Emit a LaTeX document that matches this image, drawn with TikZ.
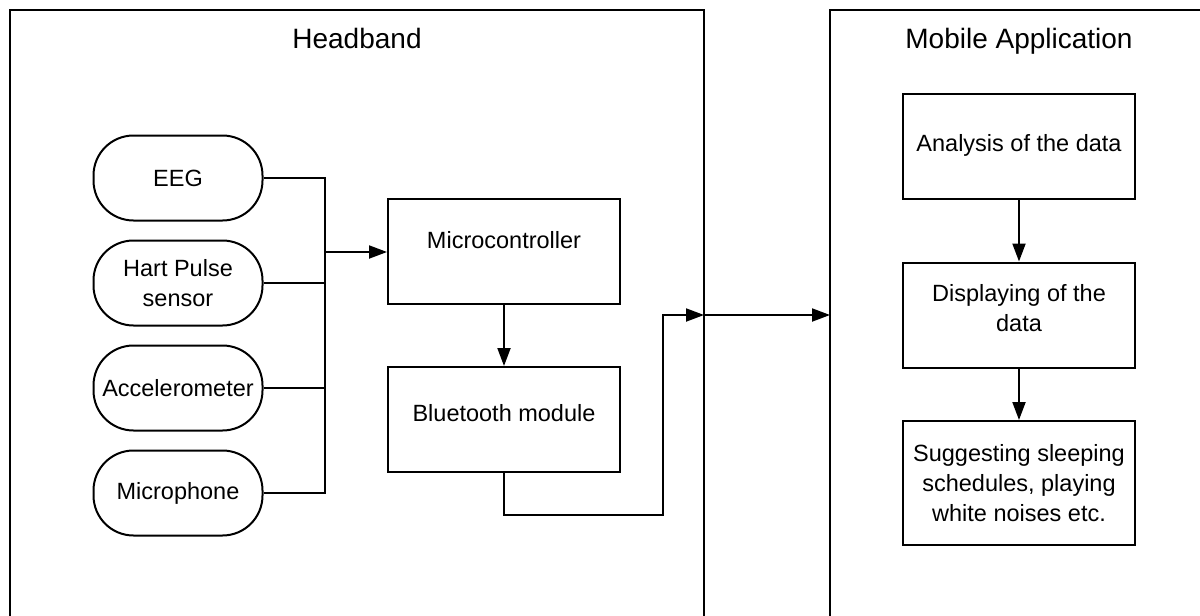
\documentclass[tikz,border=0pt]{standalone}
\usepackage{fontspec}
\setmainfont{Liberation Sans}
\usetikzlibrary{arrows.meta}

\tikzset{
  frame/.style={draw, line width=2.2pt},
  title/.style={font=\fontsize{28}{32}\selectfont, anchor=base},
  sensor/.style={draw, line width=2pt, rounded corners=40pt, minimum width=169pt, minimum height=85pt, align=center, font=\fontsize{23.5}{30}\selectfont},
  block/.style={draw, line width=2pt, minimum width=232pt, minimum height=105pt, align=center, font=\fontsize{23.5}{30}\selectfont},
  arr/.style={line width=2pt, -{Triangle[length=18pt,width=13pt]}},
  wire/.style={line width=2pt}
}

\begin{document}
\begin{tikzpicture}[x=1pt,y=-1pt]
 \clip (0,0) rectangle (1200,616);
 \fill[white] (0,0) rectangle (1200,616);
 % frames
 \draw[frame] (10,630) |- (704,10) -- (704,630);
 \draw[frame] (830,630) |- (1220,10);
 \node (hbtitle) [title] at (357,48) {Headband};
 \node (apptitle) [title] at (1019,48) {Mobile Application};

 \begin{scope}
   \node (eeg) [sensor] at (178,178) {EEG};
   \node (hart) [sensor] at (178,283) {Hart Pulse\\sensor};
   \node (acc) [sensor,inner sep=1pt] at (178,388) {Accelerometer};
   \node (mic) [sensor] at (178,493) {Microphone};
   \node (mcu) [block,text depth=22pt] at (504,251) {Microcontroller};
   \node (bt) [block,text depth=14pt] at (504,419.5) {Bluetooth module};

   \node (ana) [block,text depth=8pt] at (1019,146.5) {Analysis of the data};
   \node (disp) [block,text depth=14pt] at (1019,315) {Displaying of the\\data};
   \node (sug) [block,minimum height=124pt] at (1019,483) {Suggesting sleeping\\schedules, playing\\white noises etc.};
 \end{scope}

 \coordinate (joint) at (325,252);
 \coordinate (turn) at (663,515);
 \coordinate (hub) at (704,315);

 % sensors to microcontroller
 \draw[wire] (eeg.east) -| (joint);
 \draw[wire] (mic.east) -| (joint);
 \draw[wire] (hart.east) -- (hart.east -| joint);
 \draw[wire] (acc.east) -- (acc.east -| joint);
 \draw[arr] (joint) -- (joint -| mcu.west);
 \draw[arr] (mcu) -- (bt);
 % out of the headband
 \draw[arr] (bt.south) |- (turn) |- (hub);
 \draw[arr] (hub) -- (830,315);
 % app
 \draw[arr] (ana) -- (disp);
 \draw[arr] (disp) -- (sug);
\end{tikzpicture}
\end{document}
